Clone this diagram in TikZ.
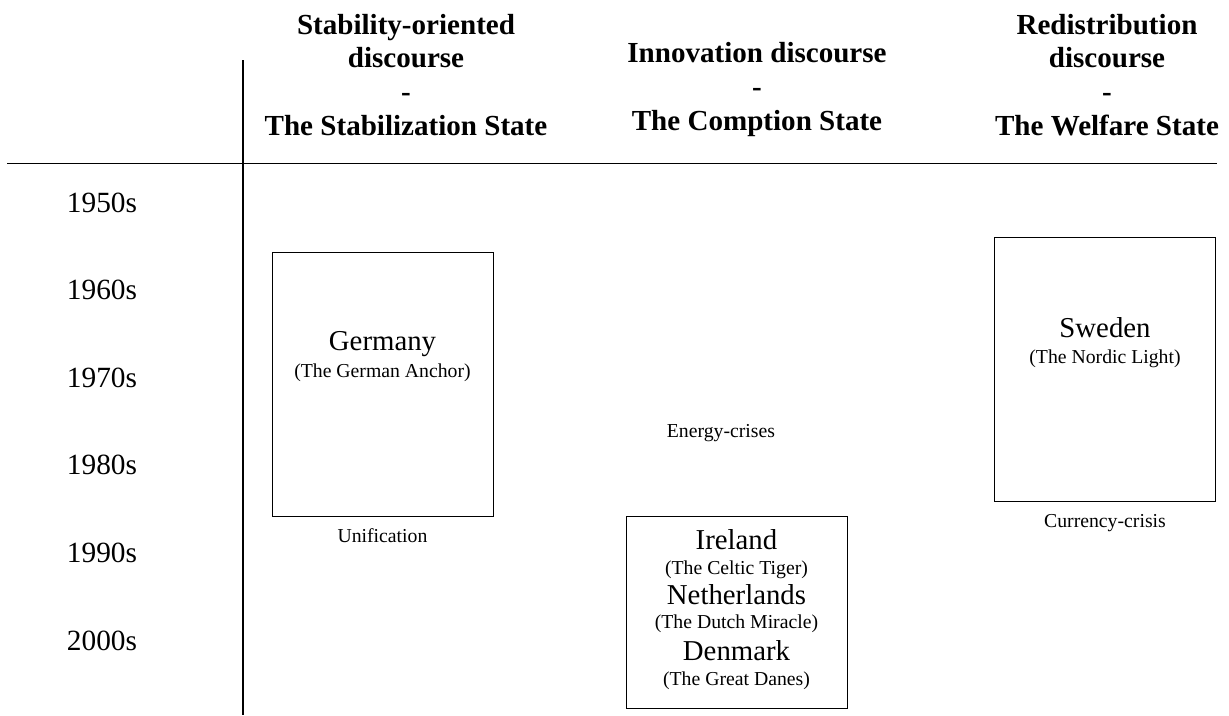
\documentclass[tikz,border=0pt]{standalone}
\usepackage{fontspec}
\setmainfont{Liberation Serif}
\tikzset{
    heading/.style={align=center, anchor=base, font=\fontsize{21.8}{25.2}\selectfont\bfseries},
    decade/.style={anchor=base, font=\fontsize{22}{26}\selectfont},
    country/.style={anchor=base, font=\fontsize{21.6}{26}\selectfont},
    nickname/.style={anchor=base, font=\fontsize{14.8}{18}\selectfont},
    event/.style={anchor=base, font=\fontsize{14.8}{18}\selectfont},
    period/.style={draw, line width=0.8pt, anchor=north west, inner sep=0pt, minimum width=165.75pt},
    axis/.style={line width=1pt},
}
\begin{document}
\begin{tikzpicture}[x=0.75pt, y=-0.75pt]
    \useasboundingbox (0,0) rectangle (1229,715);

    % Ejes de la tabla
    \coordinate (hleft) at (7,163.5);
    \coordinate (hright) at (1217,163.5);
    \coordinate (vtop) at (243,60);
    \coordinate (vbottom) at (243,715);
    \draw[axis] (hleft) -- (hright);
    \draw[axis] (vtop) -- (vbottom);

    % Encabezados (anclados en la linea base de la ultima linea)
    \node[heading] (stability) at (406,135) {Stability-oriented\\discourse\\-\\The Stabilization State};
    \node[heading] (innovation) at (757,130) {Innovation discourse\\-\\The Comption State};
    \node[heading] (redistribution) at (1107,135) {Redistribution\\discourse\\-\\The Welfare State};

    % Decadas
    \foreach \yr/\yy in {1950/212, 1960/299.6, 1970/387.2, 1980/474.8, 1990/562.4, 2000/650}
        \node[decade] (d\yr) at (102,\yy) {\yr s};

    % Columna 1: Alemania
    \node[period, minimum height=198pt] (germanybox) at (272,252) {};
    \node[country] (germany) at (382.5,350) {Germany};
    \node[nickname] (anchor) at (382.5,377) {(The German Anchor)};
    \node[event] (unification) at (382.5,542) {Unification};

    % Columna 2: Irlanda, Paises Bajos, Dinamarca
    \node[event] (energy) at (721,437) {Energy-crises};
    \node[period, minimum height=144pt] (trio) at (626,516) {};
    \node[country] (ireland) at (736.5,549) {Ireland};
    \node[nickname] (tiger) at (736.5,574) {(The Celtic Tiger)};
    \node[country] (netherlands) at (736.5,604) {Netherlands};
    \node[nickname] (miracle) at (736.5,628) {(The Dutch Miracle)};
    \node[country] (denmark) at (736.5,660) {Denmark};
    \node[nickname] (danes) at (736.5,685) {(The Great Danes)};

    % Columna 3: Suecia
    \node[period, minimum height=198pt] (swedenbox) at (994,237) {};
    \node[country] (sweden) at (1105,337) {Sweden};
    \node[nickname] (nordic) at (1105,363) {(The Nordic Light)};
    \node[event] (currency) at (1105,527) {Currency-crisis};
\end{tikzpicture}
\end{document}
